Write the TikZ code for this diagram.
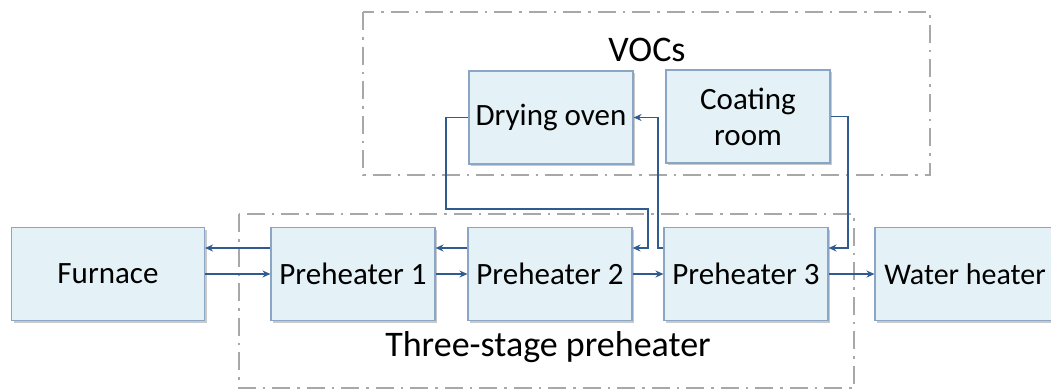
\documentclass[tikz,border=0pt]{standalone}
\usepackage{fontspec}
\setmainfont{Carlito}
\usetikzlibrary{arrows.meta,shadows}
\definecolor{boxfill}{HTML}{E4F1F6}
\definecolor{boxline}{HTML}{8AA6C4}
\definecolor{arrc}{HTML}{2F5B91}
\definecolor{grp}{HTML}{A8A8A8}
\tikzset{
  blk/.style={draw=boxline, line width=1.1pt, fill=boxfill, minimum height=93pt,
    minimum width=164pt, inner sep=0pt, align=center,
    font=\fontsize{31}{36}\selectfont,
    drop shadow={shadow xshift=2pt, shadow yshift=-2pt, fill=black!35, opacity=0.6}},
  arr/.style={draw=arrc, line width=1.5pt, -{Stealth[length=8pt,width=7pt]}},
  grpbox/.style={draw=grp, line width=2pt, dash pattern=on 18pt off 7pt on 2.5pt off 7pt},
  lbl/.style={font=\fontsize{36}{40}\selectfont, inner sep=0pt}
}
\begin{document}
\begin{tikzpicture}[x=1pt,y=-1pt]
\useasboundingbox (0,0) rectangle (1051,391);
\clip (0,0) rectangle (1051,391);
\fill[white] (0,0) rectangle (1051,391);
% group boxes
\draw[grpbox] (363,12) rectangle (930,175);
\draw[grpbox] (239,214) rectangle (854,388);
\node[lbl] (voc) at (647,50) {VOCs};
\node[lbl] (tsp) at (548,347) {Three-stage preheater};
% blocks
\node[blk, minimum width=193pt] (furn) at (108,274) {Furnace};
\node[blk] (p1) at (353,274) {Preheater 1};
\node[blk] (p2) at (550,274) {Preheater 2};
\node[blk] (p3) at (746,274) {Preheater 3};
\node[blk, minimum width=180pt, font=\fontsize{30}{36}\selectfont] (wh) at (965,274) {Water heater};
\node[blk] (dry) at (551,117.5) {Drying oven};
\node[blk] (coat) at (748,116.5) {Coating\\room};
% arrows
\draw[arr] ([yshift=26pt]p1.west) -- ([yshift=26pt]furn.east);
\draw[arr] (furn.east) -- (p1.west);
\draw[arr] ([yshift=26pt]p2.west) -- ([yshift=26pt]p1.east);
\draw[arr] (p1.east) -- (p2.west);
\draw[arr] (p2.east) -- (p3.west);
\draw[arr] (p3.east) -- (wh.west);
\coordinate (a1) at (446,117.5);
\coordinate (a2) at (446,209);
\coordinate (a3) at (648,209);
\draw[arr] (dry.west) -- (a1) -- (a2) -- (a3) |- ([yshift=26pt]p2.east);
\coordinate (b1) at (658,248);
\draw[arr] ([yshift=26pt]p3.west) -- (b1) |- (dry.east);
\coordinate (c1) at (848,116.5);
\draw[arr] (coat.east) -- (c1) |- ([yshift=26pt]p3.east);
\end{tikzpicture}
\end{document}
